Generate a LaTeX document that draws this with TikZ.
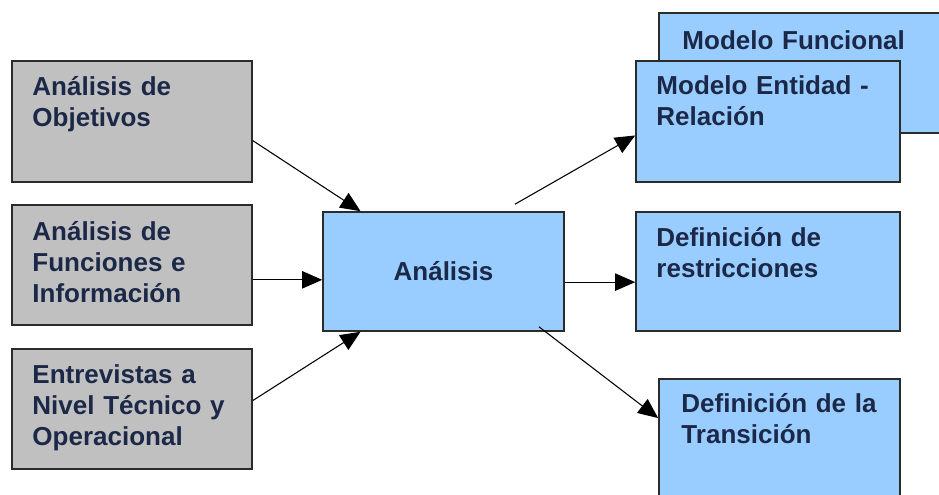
\documentclass[tikz,border=0pt]{standalone}
\usepackage{fontspec}
\setmainfont{Liberation Sans}
\usetikzlibrary{arrows.meta, positioning, calc}

\definecolor{boxgray}{HTML}{C0C0C0}
\definecolor{boxblue}{HTML}{99CCFF}
\definecolor{txtnavy}{HTML}{1C2848}
\definecolor{edgegray}{HTML}{2B2B2B}

\begin{document}
\begin{tikzpicture}[
    x=0.75pt, y=-0.75pt,
    every node/.style={font=\fontsize{19.5}{23.25}\selectfont\bfseries, text=txtnavy},
    block/.style={
        rectangle,
        draw=edgegray,
        line width=1.2pt,
        inner sep=0pt
    },
    grayblock/.style={block, fill=boxgray, minimum width=180pt, minimum height=90pt},
    blueblock/.style={block, fill=boxblue, minimum width=198pt, minimum height=90.75pt},
    txt/.style={anchor=base west, inner sep=0pt, text width=175pt, align=left},
    arrow/.style={line width=0.8pt, -{Triangle[length=15pt,width=13pt]}}
]
\useasboundingbox (0,0) rectangle (939,495);

% inputs
\node (obj) [grayblock, minimum height=90.75pt] at (132,121.5) {};
\node (fun) [grayblock] at (132,265) {};
\node (ent) [grayblock] at (132,409) {};

% centre
\node (ana) [block, fill=boxblue, minimum width=180.75pt, minimum height=89.25pt] at (443.5,271.5) {An\'alisis};

% outputs
\node (mfun) [blueblock, minimum width=225pt, minimum height=90pt] at (809,73) {};
\node (mer) [blueblock] at (768,121.5) {};
\node (res) [blueblock, minimum height=89.25pt] at (768,271.5) {};
\node (tra) [blueblock, minimum width=180.75pt] at (779.5,439.5) {};

% texts
\node (objtxt) [txt] at ([shift={(21,35)}]obj.north west) {Análisis de\\Objetivos};
\node (funtxt) [txt] at ([shift={(21,36)}]fun.north west) {Análisis de\\Funciones e\\Información};
\node (enttxt) [txt] at ([shift={(21,35)}]ent.north west) {Entrevistas a\\Nivel Técnico y\\Operacional};
\node (mfuntxt) [txt] at ([shift={(24,37)}]mfun.north west) {Modelo Funcional};
\node (mertxt) [txt] at ([shift={(21,34)}]mer.north west) {Modelo Entidad -\\Relación};
\node (restxt) [txt] at ([shift={(21,35)}]res.north west) {Definición de\\restricciones};
\node (tratxt) [txt] at ([shift={(23,34)}]tra.north west) {Definición de la\\Transición};

\draw [arrow] (obj.-9) -- (ana.144);
\draw [arrow] (fun.-7) -- (fun.-7 -| ana.west);
\draw [arrow] (ent.4) -- (ana.-144);
\draw [arrow] ($(ana.north)+(71.5,-7)$) -- (mer.186);
\draw [arrow] (ana.-5.5) -- (ana.-5.5 -| res.west);
\draw [arrow] ($(ana.south)+(95.5,-5)$) -- (tra.170);

\end{tikzpicture}
\end{document}
